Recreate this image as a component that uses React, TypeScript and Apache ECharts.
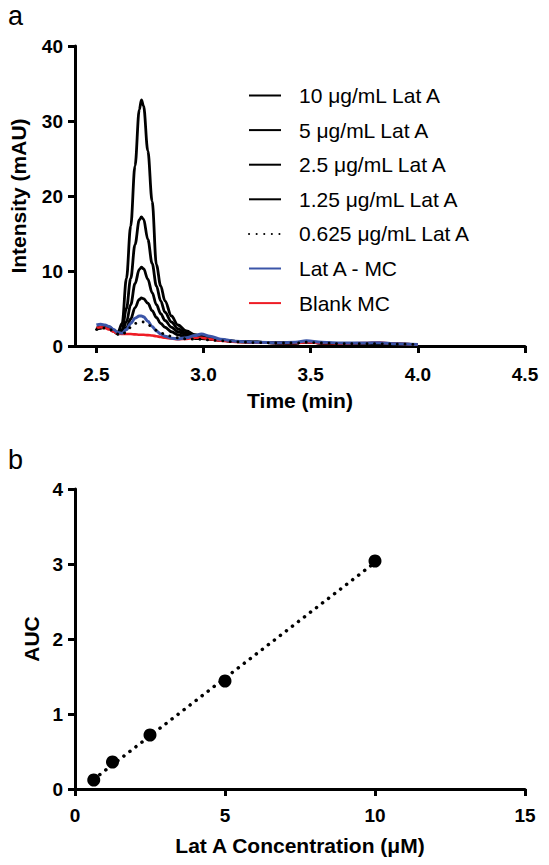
import React, { useEffect, useRef } from "react";
import * as echarts from "echarts";

// ---------- Panel a: chromatograms ----------
const TIME = [
  2.5, 2.52, 2.54, 2.56, 2.58, 2.6, 2.62, 2.64, 2.66, 2.68, 2.7, 2.71, 2.72, 2.74, 2.76, 2.78, 2.8, 2.82,
  2.85, 2.88, 2.92, 2.96, 2.99, 3.03, 3.08, 3.15, 3.25, 3.35, 3.43, 3.48, 3.55, 3.65, 3.75, 3.82, 3.9, 4.0,
];
const LAT_10 = [
  2.4, 2.5, 2.6, 2.5, 2.1, 1.8, 3.0, 9.0, 16.0, 24.0, 31.5, 32.8, 32.0, 26.0, 19.3, 10.8, 8.0, 6.0,
  4.0, 2.8, 2.0, 1.5, 1.3, 1.0, 0.8, 0.6, 0.5, 0.4, 0.4, 0.55, 0.4, 0.3, 0.3, 0.3, 0.25, 0.2,
];
const LAT_5 = [
  2.3, 2.5, 2.6, 2.5, 2.1, 1.7, 2.2, 5.0, 9.0, 13.5, 16.8, 17.2, 16.9, 14.2, 11.0, 8.0, 6.0, 4.5,
  3.2, 2.3, 1.7, 1.35, 1.2, 1.0, 0.8, 0.6, 0.5, 0.4, 0.4, 0.55, 0.4, 0.3, 0.3, 0.3, 0.25, 0.2,
];
const LAT_2_5 = [
  2.3, 2.4, 2.5, 2.4, 2.0, 1.6, 1.9, 3.2, 5.5, 8.3, 10.2, 10.5, 10.3, 8.9, 7.1, 5.5, 4.3, 3.4,
  2.5, 1.9, 1.5, 1.2, 1.1, 0.95, 0.8, 0.6, 0.5, 0.4, 0.4, 0.55, 0.4, 0.3, 0.3, 0.3, 0.25, 0.2,
];
const LAT_1_25 = [
  2.2, 2.4, 2.5, 2.4, 2.0, 1.6, 1.7, 2.4, 3.6, 5.1, 6.2, 6.4, 6.3, 5.7, 4.7, 3.8, 3.0, 2.5,
  1.9, 1.5, 1.2, 1.0, 1.0, 0.9, 0.75, 0.6, 0.5, 0.4, 0.4, 0.55, 0.4, 0.3, 0.3, 0.3, 0.25, 0.2,
];
const LAT_0_625 = [
  2.2, 2.3, 2.4, 2.3, 1.9, 1.6, 1.5, 1.9, 2.5, 3.0, 3.2, 3.2, 3.2, 2.9, 2.5, 2.1, 1.8, 1.5,
  1.3, 1.1, 0.95, 0.9, 0.9, 0.8, 0.7, 0.55, 0.45, 0.4, 0.4, 0.5, 0.4, 0.3, 0.3, 0.3, 0.25, 0.2,
];
const LAT_MC = [
  2.8, 2.9, 2.8, 2.6, 2.2, 1.8, 1.7, 2.2, 3.0, 3.7, 4.0, 4.0, 3.9, 3.3, 2.6, 2.0, 1.6, 1.3,
  1.05, 0.95, 1.1, 1.4, 1.6, 1.3, 0.9, 0.65, 0.5, 0.45, 0.5, 0.7, 0.5, 0.4, 0.4, 0.45, 0.3, 0.2,
];
const BLANK_MC = [
  2.4, 2.5, 2.4, 2.2, 1.9, 1.7, 1.6, 1.6, 1.6, 1.55, 1.5, 1.5, 1.5, 1.45, 1.4, 1.3, 1.2, 1.1,
  1.0, 0.9, 0.95, 1.1, 1.1, 0.9, 0.7, 0.55, 0.45, 0.4, 0.4, 0.5, 0.4, 0.35, 0.4, 0.45, 0.3, 0.2,
];
const SERIES_NAMES = [
  "10 μg/mL Lat A",
  "5 μg/mL Lat A",
  "2.5 μg/mL Lat A",
  "1.25 μg/mL Lat A",
  "0.625 μg/mL Lat A",
  "Lat A - MC",
  "Blank MC",
];
const TIME_TICKS = [2.5, 3.0, 3.5, 4.0, 4.5];

// ---------- Panel b: calibration ----------
const CONC = [0.625, 1.25, 2.5, 5, 10];
const AUC = [0.12, 0.36, 0.72, 1.44, 3.04];
const FIT_X = [0.625, 10];
const FIT_Y = [0.13, 3.02];

const FONT = "'Liberation Sans', Arial, Helvetica, sans-serif";

const zip = (xs: number[], ys: number[]) => xs.map((x, i) => [x, ys[i]]);

export default function App() {
  const ref = useRef<HTMLDivElement>(null);
  useEffect(() => {
    document.body.style.margin = "0";
    const chart = echarts.init(ref.current!, null, { renderer: "svg" });
    const axisLine = { onZero: false, lineStyle: { color: "#000", width: 3 } };
    const tick = { length: 7, lineStyle: { color: "#000", width: 3 } };
    const label = { color: "#000", fontSize: 19, fontWeight: "bold" as const, fontFamily: FONT };
    const nameStyle = { color: "#000", fontSize: 21, fontWeight: "bold" as const, fontFamily: FONT };

    const lineSeries = (name: string, data: number[], color: string, width: number, type: any = "solid", cap = "butt") => ({
      type: "line",
      name,
      xAxisIndex: 0,
      yAxisIndex: 0,
      data: zip(TIME, data),
      symbol: "none",
      smooth: 0.35,
      smoothMonotone: "x",
      lineStyle: { color, width, type, cap },
      itemStyle: { color },
    });

    chart.setOption({
      animation: false,
      backgroundColor: "#fff",
      grid: [
        { left: 75, right: 24, top: 46, height: 300 },
        { left: 75, right: 24, top: 489, height: 300 },
      ],
      legend: {
        orient: "vertical",
        left: 248,
        top: 85,
        padding: 0,
        itemWidth: 32,
        itemHeight: 20,
        itemGap: 13.6,
        selectedMode: false,
        data: SERIES_NAMES,
        itemStyle: { opacity: 0 },
        textStyle: { color: "#000", fontSize: 21, fontFamily: FONT, padding: [0, 0, 0, 13], lineHeight: 20 },
      },
      xAxis: [
        {
          type: "value",
          gridIndex: 0,
          min: 2.4,
          max: 4.5,
          axisLine,
          axisTick: { ...tick, customValues: TIME_TICKS },
          axisLabel: { ...label, margin: 19, customValues: TIME_TICKS, formatter: (v: number) => v.toFixed(1) },
          splitLine: { show: false },
          name: "Time (min)",
          nameLocation: "middle",
          nameGap: 44,
          nameTextStyle: nameStyle,
        },
        {
          type: "value",
          gridIndex: 1,
          min: 0,
          max: 15,
          interval: 5,
          axisLine,
          axisTick: tick,
          axisLabel: { ...label, margin: 17 },
          splitLine: { show: false },
          name: "Lat A Concentration (μM)",
          nameLocation: "middle",
          nameGap: 46,
          nameTextStyle: nameStyle,
        },
      ],
      yAxis: [
        {
          type: "value",
          gridIndex: 0,
          min: 0,
          max: 40,
          interval: 10,
          axisLine,
          axisTick: tick,
          axisLabel: { ...label, margin: 12 },
          splitLine: { show: false },
          name: "Intensity (mAU)",
          nameLocation: "middle",
          nameGap: 46,
          nameTextStyle: nameStyle,
        },
        {
          type: "value",
          gridIndex: 1,
          min: 0,
          max: 4,
          interval: 1,
          axisLine,
          axisTick: tick,
          axisLabel: { ...label, margin: 12 },
          splitLine: { show: false },
          name: "AUC",
          nameLocation: "middle",
          nameGap: 32,
          nameTextStyle: nameStyle,
        },
      ],
      graphic: [
        { type: "text", left: 8, top: 2, style: { text: "a", fill: "#000", font: `27px ${FONT}` } },
        { type: "text", left: 8, top: 446, style: { text: "b", fill: "#000", font: `27px ${FONT}` } },
      ],
      series: [
        lineSeries(SERIES_NAMES[0], LAT_10, "#000", 2.8),
        lineSeries(SERIES_NAMES[1], LAT_5, "#000", 2.8),
        lineSeries(SERIES_NAMES[2], LAT_2_5, "#000", 2.8),
        lineSeries(SERIES_NAMES[3], LAT_1_25, "#000", 2.8),
        lineSeries(SERIES_NAMES[6], BLANK_MC, "#ee1c25", 2.6),
        lineSeries(SERIES_NAMES[5], LAT_MC, "#3b55a8", 3),
        lineSeries(SERIES_NAMES[4], LAT_0_625, "#000", 2.8, [0.1, 7.5], "round"),
        {
          type: "line",
          xAxisIndex: 1,
          yAxisIndex: 1,
          data: zip(FIT_X, FIT_Y),
          symbol: "none",
          lineStyle: { color: "#000", width: 3.5, type: [0.1, 7.5], cap: "round" },
        },
        {
          type: "scatter",
          xAxisIndex: 1,
          yAxisIndex: 1,
          data: zip(CONC, AUC),
          symbol: "circle",
          symbolSize: 13,
          itemStyle: { color: "#000", opacity: 1 },
        },
      ],
    });
    return () => chart.dispose();
  }, []);
  return <div ref={ref} style={{ width: 549, height: 865 }} />;
}
